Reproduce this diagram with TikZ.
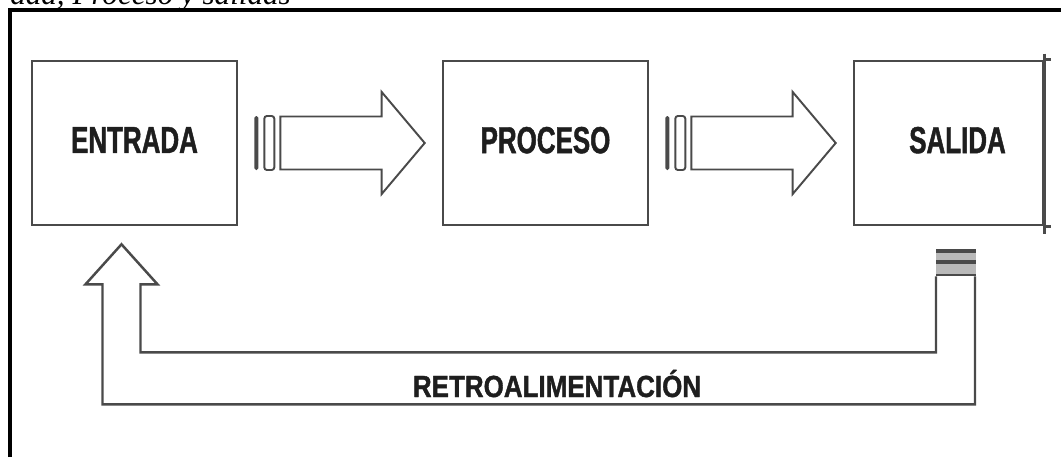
\documentclass[tikz,border=0pt]{standalone}
\usepackage{fontspec}
\usepackage{tikz}
\usetikzlibrary{arrows.meta}
\usetikzlibrary{calc}
\usetikzlibrary{positioning}
\newfontfamily\boxfont[FakeStretch=0.69,FakeBold=1.2]{Liberation Sans}
\newfontfamily\feedfont[FakeStretch=0.85,FakeBold=1.2]{Liberation Sans}
\newfontfamily\captfont{Liberation Serif}
\definecolor{boxgray}{HTML}{4A4A4A}
\definecolor{inkgray}{HTML}{1E1E1E}
\tikzset{
  box/.style={draw=boxgray, line width=1.5pt, minimum width=4.1cm, minimum height=3.28cm, inner sep=0pt, text depth=0.12cm, text=inkgray, font=\boxfont\bfseries\fontsize{21.4}{24}\selectfont},
  hollow/.style={draw=boxgray, line width=1.1pt, line join=miter},
}

\begin{document}
\begin{tikzpicture}[x=0.02cm, y=-0.02cm]
    \useasboundingbox (0,0) rectangle (1061,457);
    \clip (0,0) rectangle (1061,457);
    % Frame and caption
    \node[anchor=base west, inner sep=0pt, font=\captfont\itshape\fontsize{17.7}{20}\selectfont] (caption) at (10,4) {ada, Proceso y salidas};%
    \draw[line width=2.3pt] (10,457) -- (10,10) -- (1061,10);%

    % Boxes
    \node[box] (entrada) at (134.5,143) {ENTRADA};%
    \node[box] (proceso) at (545.5,143) {PROCESO};%
    \node[box, minimum width=3.78cm] (salida) at (948.5,143) {\hspace*{0.36cm}SALIDA};%
    \draw[boxgray, line width=1.5pt] ($(salida.north east)+(0,-6)$) -- ($(salida.south east)+(0,8)$);% % right edge sticks out
    \draw[boxgray, line width=1.5pt] (salida.north east) -- ++(7,0);%
    \draw[boxgray, line width=1.5pt] (salida.south east) -- ++(7,0);%

    % Hollow arrows between the boxes
    \foreach \a/\b in {entrada/proceso, proceso/salida}{%
      \fill[boxgray, rounded corners=1pt] ($(\a.east)+(16,-27)$) rectangle ($(\a.east)+(20,27)$);%
      \draw[hollow, rounded corners=1.5pt] ($(\a.east)+(26,-27)$) rectangle ($(\a.east)+(36,27)$);%
      \draw[hollow] ($(\a.east)+(42,-26.5)$) -- ($(\b.west)+(-60,-26.5)$) -- ($(\b.west)+(-60,-51)$) -- ($(\b.west)+(-17,0)$) -- ($(\b.west)+(-60,51)$) -- ($(\b.west)+(-60,26.5)$) -- ($(\a.east)+(42,26.5)$) -- cycle;%
    }

    % Feedback arrow
    \coordinate (fbtip) at ($(entrada.south)+(-13,18)$);%
    \coordinate (fbcap) at ($(salida.south)+(-12.5,23)$);%
    \draw[hollow, line width=1.4pt] ($(fbcap)+(0,27)$) |- ($(fbtip)+(19,108)$) -- ($(fbtip)+(19,40)$) -- ($(fbtip)+(36,40)$) -- (fbtip) -- ($(fbtip)+(-36,40)$) -- ($(fbtip)+(-19,40)$) |- ($(fbcap)+(39,155)$) -- ($(fbcap)+(39,27)$);%
    % striped cap
    \fill[gray!55] (fbcap) rectangle ($(fbcap)+(40,27)$);%
    \foreach \s/\w in {2/2.2pt, 13/2.2pt, 26/1pt}
      \draw[boxgray, line width=\w] ($(fbcap)+(0,\s)$) -- ++(40,0);%
    \node[anchor=base, inner sep=0pt, text=inkgray, font=\feedfont\bfseries\fontsize{17.4}{20}\selectfont] (retro) at (557,397) {RETROALIMENTACIÓN};%
\end{tikzpicture}
\end{document}
